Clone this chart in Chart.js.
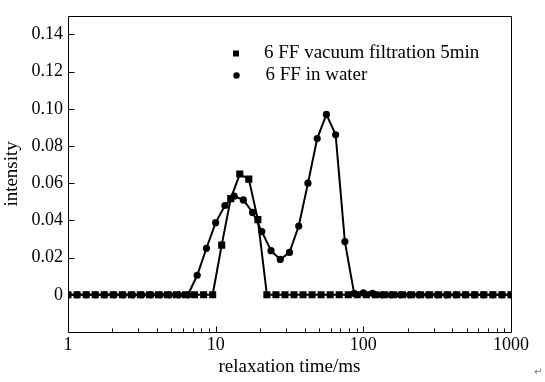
<!DOCTYPE html>
<html><head><meta charset="utf-8">
<script src="https://cdn.jsdelivr.net/npm/chart.js@4.4.1/dist/chart.umd.min.js"></script>
<style>html,body{margin:0;padding:0;background:#fff;}</style>
</head><body>
<canvas id="c" width="545" height="382" style="display:block"></canvas>
<script>
// relaxation times (ms) of each sampled point
const filtrationTimes = [1, 1.151, 1.326, 1.526, 1.758, 2.024, 2.330, 2.683, 3.089, 3.556,
  4.095, 4.715, 5.429, 6.251, 7.197, 8.286, 9.541, 10.985, 12.649, 14.563,
  16.768, 19.307, 22.230, 25.595, 29.471, 33.932, 39.070, 44.984, 51.795, 59.636,
  68.665, 79.060, 91.030, 104.81, 120.68, 138.95, 159.99, 184.21, 212.10, 244.21,
  281.19, 323.75, 372.76, 429.20, 494.18, 568.99, 655.14, 754.33, 868.53, 1000];
const filtrationIntensity = [0, 0, 0, 0, 0, 0, 0, 0, 0, 0,
  0, 0, 0, 0, 0, 0, 0, 0.0267, 0.0517, 0.0649,
  0.0622, 0.0404, 0, 0, 0, 0, 0, 0, 0, 0,
  0, 0, 0, 0, 0, 0, 0, 0, 0, 0,
  0, 0, 0, 0, 0, 0, 0, 0, 0, 0];
const waterTimes = [1, 1.155, 1.334, 1.540, 1.778, 2.054, 2.371, 2.738, 3.162, 3.652,
  4.217, 4.870, 5.623, 6.494, 7.499, 8.660, 10, 11.55, 13.34, 15.40,
  17.78, 20.54, 23.71, 27.38, 31.62, 36.52, 42.17, 48.70, 56.23, 64.94,
  74.99, 86.60, 100, 115.5, 133.4, 154.0, 177.8, 205.4, 237.1, 273.8,
  316.2, 365.2, 421.7, 487.0, 562.3, 649.4, 749.9, 866.0, 1000];
const waterIntensity = [0, 0, 0, 0, 0, 0, 0, 0, 0, 0,
  0, 0, 0, 0, 0.0105, 0.025, 0.0388, 0.048, 0.053, 0.051,
  0.0443, 0.034, 0.0237, 0.019, 0.0228, 0.037, 0.060, 0.084, 0.097, 0.086,
  0.0286, 0.0008, 0.001, 0.0008, 0, 0, 0, 0, 0, 0,
  0, 0, 0, 0, 0, 0, 0, 0, 0];
const seriesLabels = ['6 FF vacuum filtration 5min', '6 FF in water'];
const xTickValues = [1, 10, 100, 1000];
const yTickValues = [0, 0.02, 0.04, 0.06, 0.08, 0.10, 0.12, 0.14];
const yTickLabels = ['0', '0.02', '0.04', '0.06', '0.08', '0.10', '0.12', '0.14'];
const xTitle = 'relaxation time/ms';
const yTitle = 'intensity';

const FONT = "'Liberation Serif', 'Times New Roman', serif";

const framePlugin = {
  id: 'frameTicks',
  beforeDatasetsDraw(chart) {
    const {ctx, chartArea: a, scales: {x, y}} = chart;
    ctx.save();
    ctx.strokeStyle = '#000';
    ctx.lineWidth = 1;
    const L = Math.round(a.left) + 0.5, R = Math.round(a.right) + 0.5;
    const T = Math.round(a.top) + 0.5, B = Math.round(a.bottom) + 0.5;
    ctx.beginPath();
    ctx.rect(L, T, R - L, B - T);
    // x ticks (inward)
    for (let e = 0; e < 3; e++) {
      for (let m = 1; m <= 9; m++) {
        const v = m * Math.pow(10, e);
        if (v === 1) continue;
        const px = Math.round(x.getPixelForValue(v)) + 0.5;
        const len = m === 1 ? 6 : 4;
        ctx.moveTo(px, B);
        ctx.lineTo(px, B - len);
      }
    }
    // y ticks (inward)
    yTickValues.forEach(v => {
      const py = Math.round(y.getPixelForValue(v)) + 0.5;
      ctx.moveTo(L, py);
      ctx.lineTo(L + 6, py);
    });
    ctx.stroke();
    ctx.restore();
  },
  afterDraw(chart) {
    const {ctx} = chart;
    ctx.save();
    // legend
    const ds = chart.data.datasets;
    ctx.fillStyle = '#000';
    ctx.fillRect(233, 50.5, 6, 6);
    ctx.beginPath();
    ctx.arc(236.5, 75.5, 3.2, 0, Math.PI * 2);
    ctx.fill();
    ctx.font = '19px ' + FONT;
    ctx.textBaseline = 'middle';
    ctx.textAlign = 'left';
    ctx.fillText(ds[0].label, 264, 53);
    ctx.fillText(ds[1].label, 265.5, 75);
    // paragraph mark
    ctx.fillStyle = '#777';
    ctx.font = "10px 'DejaVu Sans'";
    ctx.fillText('\u21B5', 534, 372);
    ctx.restore();
  }
};

new Chart(document.getElementById('c'), {
  type: 'scatter',
  data: {
    datasets: [
      {
        label: seriesLabels[0],
        data: filtrationTimes.map((t, i) => ({x: t, y: filtrationIntensity[i]})),
        showLine: true, borderColor: '#000', borderWidth: 2,
        pointStyle: 'rect', pointRadius: 5, pointBackgroundColor: '#000',
        pointBorderWidth: 0, tension: 0
      },
      {
        label: seriesLabels[1],
        data: waterTimes.map((t, i) => ({x: t, y: waterIntensity[i]})),
        showLine: true, borderColor: '#000', borderWidth: 2,
        pointStyle: 'circle', pointRadius: 3.6, pointBackgroundColor: '#000',
        pointBorderWidth: 0, tension: 0
      }
    ]
  },
  options: {
    responsive: false,
    animation: false,
    devicePixelRatio: 1,
    layout: {padding: {left: 0, right: 34, top: 10, bottom: 0}},
    plugins: {legend: {display: false}, tooltip: {enabled: false}},
    scales: {
      x: {
        type: 'logarithmic', min: 1, max: 1000,
        grid: {display: false, drawTicks: false},
        border: {display: false},
        afterBuildTicks: s => { s.ticks = xTickValues.map(v => ({value: v})); },
        afterFit: s => { s.height = 50; },
        ticks: {
          autoSkip: false, maxRotation: 0, padding: 2, color: '#000',
          font: {family: FONT, size: 18},
          callback: v => String(v)
        },
        title: {display: true, text: xTitle, color: '#000',
          font: {family: FONT, size: 19}, padding: {top: 0, bottom: 4}}
      },
      y: {
        min: -0.02, max: 0.15,
        grid: {display: false, drawTicks: false},
        border: {display: false},
        afterBuildTicks: s => { s.ticks = yTickValues.map(v => ({value: v})); },
        afterFit: s => { s.width = 68; },
        ticks: {
          padding: 5, color: '#000',
          font: {family: FONT, size: 18},
          callback: (v) => { const i = yTickValues.findIndex(t => Math.abs(t - v) < 1e-9); return i >= 0 ? yTickLabels[i] : ''; }
        },
        title: {display: true, text: yTitle, color: '#000',
          font: {family: FONT, size: 19}, padding: {top: 1, bottom: 0}}
      }
    }
  },
  plugins: [framePlugin]
});
</script>
</body></html>
